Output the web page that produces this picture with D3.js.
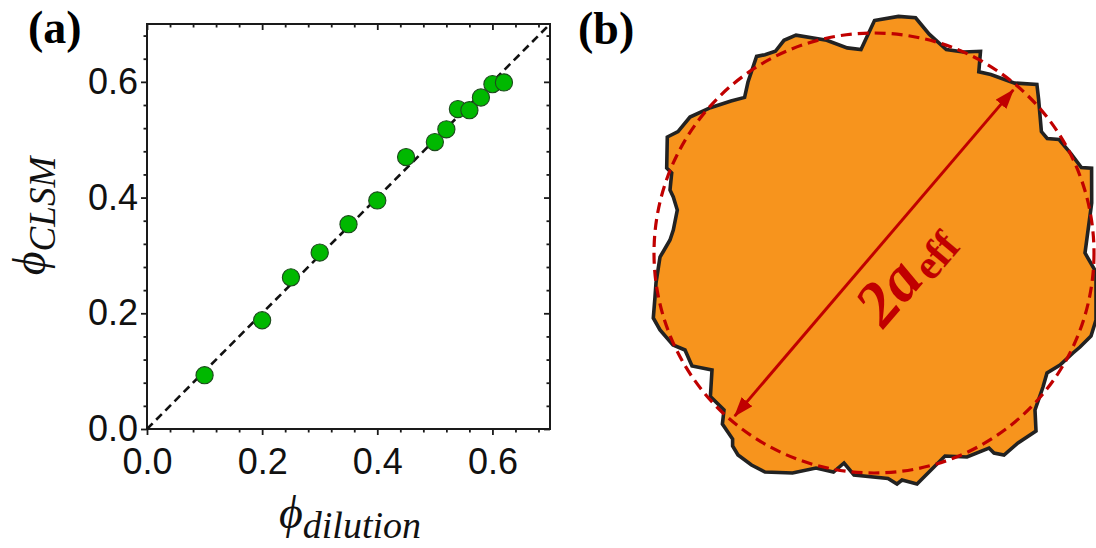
<!DOCTYPE html>
<html><head><meta charset="utf-8">
<script src="https://cdn.jsdelivr.net/npm/d3@7"></script>
<style>body{margin:0;background:#fff} svg{display:block}</style>
</head><body>
<script>
// ---------- data (panel a) ----------
const phiDilution = [0.10,0.20,0.25,0.30,0.35,0.40,0.45,0.50,0.52,0.54,0.56,0.58,0.60,0.62];
const phiCLSM     = [0.093,0.188,0.262,0.305,0.354,0.395,0.470,0.496,0.518,0.553,0.551,0.573,0.596,0.599];
const majorTicks  = [0.0,0.2,0.4,0.6];
const tickLabels  = ["0.0","0.2","0.4","0.6"];
const minorStep   = 0.04;
const axisMax     = 0.7;

// ---------- data (panel b): blob outline, offsets from circle centre (y up) ----------
const blobX = [0.5,24.5,41.6,55.2,72.3,89.4,106.5,104.8,116.8,140.7,162.9,164.6,167.4,173.2,185.1,197.1,207.4,217.6,217.7,211,222,222,217,206,199,186,173,169,161,162,144,130,120,115,93,71,59,43,28,23,14,-20,-30,-40.5,-58,-81.5,-109,-122.5,-136,-141.4,-141.4,-151.6,-150,-163.6,-162,-182,-189,-201,-214,-220.7,-219,-218,-214,-211,-204,-200.7,-196.7,-200.7,-204,-202.3,-207.3,-206.7,-196,-184,-163.6,-143,-129.4,-126,-117.4,-109,-98.6,-90,-78,-47.3,-26.8,-13];
const blobY = [232.5,236.6,235.2,218.8,203.4,201,201.7,181.2,178.5,169.9,168.6,153.9,121.4,114.5,113.5,99.2,85.5,84.8,50,0,-19,-67,-83,-94,-100,-112,-120,-134,-157,-178,-190,-202,-200,-195,-204,-203,-215,-231,-227,-231,-225.5,-222,-210,-219,-215,-220,-219,-212,-202,-193,-186,-171,-157,-143.5,-117,-113,-97,-92,-77,-65,-44,-30,-4,1,13,23,43,56,63,80,85,116,121.4,136,145.3,152,155.6,171,196.6,198.3,201.7,212.7,217.8,212.7,205.1,203.4];
const aEff = 220;          // effective radius (same units)
const arrowAngle = 49.5;   // degrees
const arrowReach = 0.975;  // fraction of aEff reached by arrow tips

const W = 1096, H = 548;
const svg = d3.select("body").append("svg").attr("width", W).attr("height", H);

// ================= Panel (a) =================
const x = d3.scaleLinear().domain([0, axisMax]).range([147, 550]);
const y = d3.scaleLinear().domain([0, axisMax]).range([429, 24]);
const minorTicks = d3.range(0, axisMax + 1e-9, minorStep).filter(v => !majorTicks.some(m => Math.abs(m - v) < 1e-6));
const fmt = (d) => tickLabels[majorTicks.indexOf(d)];
const tickFont = "'Liberation Sans', Arial, sans-serif";

function styleAxis(g) {
  g.select(".domain").remove();
  g.selectAll(".tick line").attr("stroke", "#1a1a1a").attr("stroke-width", 1.8);
  g.selectAll("text").attr("font-family", tickFont).attr("font-size", 36).attr("fill", "#111");
}

const pa = svg.append("g");
pa.append("g").attr("transform", `translate(0,${y(0)})`)
  .call(d3.axisBottom(x).tickValues(majorTicks).tickSize(6).tickPadding(13).tickFormat(fmt)).call(styleAxis);
pa.append("g").attr("transform", `translate(0,${y(0)})`)
  .call(d3.axisBottom(x).tickValues(minorTicks).tickSize(3.5).tickFormat("")).call(styleAxis);
pa.append("g").attr("transform", `translate(${x(0)},0)`)
  .call(d3.axisLeft(y).tickValues(majorTicks).tickSize(6).tickPadding(3).tickFormat(fmt)).call(styleAxis);
pa.append("g").attr("transform", `translate(${x(0)},0)`)
  .call(d3.axisLeft(y).tickValues(minorTicks).tickSize(3.5).tickFormat("")).call(styleAxis);
pa.append("g").attr("transform", `translate(0,${y(axisMax)})`)
  .call(d3.axisTop(x).tickValues(majorTicks).tickSize(-6).tickFormat("")).call(styleAxis);
pa.append("g").attr("transform", `translate(0,${y(axisMax)})`)
  .call(d3.axisTop(x).tickValues(minorTicks).tickSize(-3.5).tickFormat("")).call(styleAxis);
pa.append("g").attr("transform", `translate(${x(axisMax)},0)`)
  .call(d3.axisRight(y).tickValues(majorTicks).tickSize(-6).tickFormat("")).call(styleAxis);
pa.append("g").attr("transform", `translate(${x(axisMax)},0)`)
  .call(d3.axisRight(y).tickValues(minorTicks).tickSize(-3.5).tickFormat("")).call(styleAxis);

pa.append("rect").attr("x", x(0)).attr("y", y(axisMax))
  .attr("width", x(axisMax) - x(0)).attr("height", y(0) - y(axisMax))
  .attr("fill", "none").attr("stroke", "#1a1a1a").attr("stroke-width", 2);

// y = x reference line
pa.append("line").attr("x1", x(0)).attr("y1", y(0)).attr("x2", x(axisMax)).attr("y2", y(axisMax))
  .attr("stroke", "#111").attr("stroke-width", 2.6).attr("stroke-dasharray", "8,5");

pa.selectAll("circle.pt").data(phiDilution.map((d, i) => [d, phiCLSM[i]])).join("circle")
  .attr("class", "pt").attr("cx", d => x(d[0])).attr("cy", d => y(d[1])).attr("r", 8.6)
  .attr("fill", "#00b800").attr("stroke", "#1d4a1d").attr("stroke-width", 1.1);

const serif = "'Liberation Serif', 'Times New Roman', 'DejaVu Serif', serif";
// x label
const xl = pa.append("text").attr("x", 350).attr("y", 528).attr("text-anchor", "middle")
  .attr("font-family", serif).attr("font-style", "italic").attr("fill", "#111");
xl.append("tspan").attr("font-size", 46).text("ϕ");
xl.append("tspan").attr("font-size", 38).attr("dy", 10).text("dilution");
// y label
const yl = pa.append("text").attr("transform", "translate(45,216) rotate(-90)").attr("text-anchor", "middle")
  .attr("font-family", serif).attr("font-style", "italic").attr("fill", "#111");
yl.append("tspan").attr("font-size", 46).text("ϕ");
yl.append("tspan").attr("font-size", 37).attr("dy", 10).text("CLSM");

svg.append("text").attr("x", 28).attr("y", 43).attr("font-family", serif).attr("font-weight", "bold")
  .attr("font-size", 46).attr("fill", "#000").text("(a)");

// ================= Panel (b) =================
const xb = d3.scaleLinear().domain([-aEff, aEff]).range([654, 1094]);
const yb = d3.scaleLinear().domain([-aEff, aEff]).range([473, 33]);
const pb = svg.append("g");
const red = "#c00000";

const blobPts = blobX.map((d, i) => [xb(d), yb(blobY[i])]);
pb.append("path").attr("d", d3.line()(blobPts) + "Z")
  .attr("fill", "#f7941d").attr("stroke", "#222").attr("stroke-width", 3.6).attr("stroke-linejoin", "miter");

pb.append("circle").attr("cx", xb(0)).attr("cy", yb(0)).attr("r", xb(aEff) - xb(0))
  .attr("fill", "none").attr("stroke", red).attr("stroke-width", 3.2).attr("stroke-dasharray", "11,6");

const defs = svg.append("defs");
defs.append("marker").attr("id", "ah").attr("viewBox", "0 0 20 14").attr("refX", 19).attr("refY", 7)
  .attr("markerWidth", 20).attr("markerHeight", 14).attr("markerUnits", "userSpaceOnUse").attr("orient", "auto-start-reverse")
  .append("path").attr("d", "M0,0 L20,7 L0,14 Z").attr("fill", red);

const th = arrowAngle * Math.PI / 180, rr = aEff * arrowReach;
pb.append("line")
  .attr("x1", xb(-rr * Math.cos(th))).attr("y1", yb(-rr * Math.sin(th)))
  .attr("x2", xb(rr * Math.cos(th))).attr("y2", yb(rr * Math.sin(th)))
  .attr("stroke", red).attr("stroke-width", 3).attr("marker-start", "url(#ah)").attr("marker-end", "url(#ah)");

const lbl = pb.append("text").attr("transform", `translate(${xb(0)},${yb(0)}) rotate(${-arrowAngle})`)
  .attr("x", -52).attr("y", 57).attr("font-family", serif).attr("font-weight", "bold").attr("fill", red);
lbl.append("tspan").attr("font-size", 64).attr("font-style", "italic").text("2a");
lbl.append("tspan").attr("font-size", 42).attr("dx", 3).attr("dy", 6).text("eff");

svg.append("text").attr("x", 578).attr("y", 44).attr("font-family", serif).attr("font-weight", "bold")
  .attr("font-size", 46).attr("fill", "#000").text("(b)");
</script>
</body></html>
